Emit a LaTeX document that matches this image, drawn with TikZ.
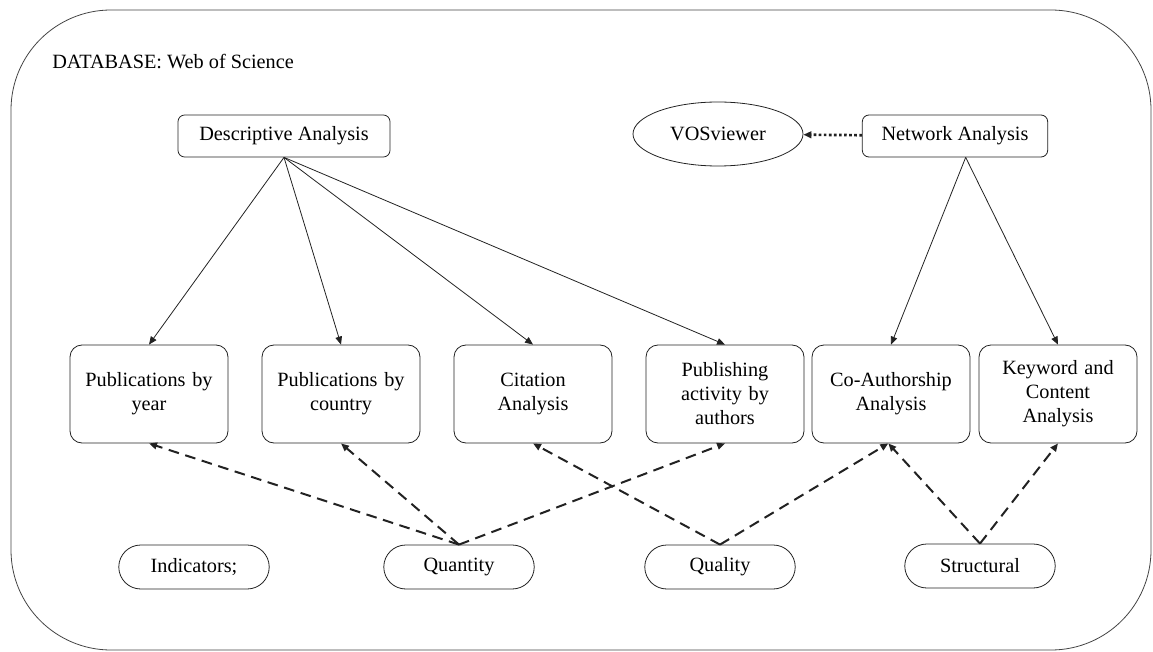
\documentclass[tikz,border=0pt]{standalone}
\usepackage{fontspec}
\setmainfont{Liberation Serif}
\usepackage{xcolor}
\usetikzlibrary{arrows.meta,positioning,shapes.geometric,shapes.misc}
\definecolor{ink}{HTML}{222222}
\definecolor{framegray}{HTML}{444444}
\tikzset{
  headbox/.style={rectangle, rounded corners=5pt, draw=ink, line width=0.6pt, align=center, minimum height=31.5pt, font=\fontsize{15.2}{18}\selectfont},
  topic/.style={rectangle, rounded corners=9pt, draw=ink, line width=0.6pt, align=center, minimum width=118.5pt, minimum height=73.5pt, text width=110pt, font=\fontsize{15.2}{18}\selectfont},
  pill/.style={rounded rectangle, draw=ink, line width=0.6pt, align=center, minimum width=119.5pt, minimum height=33pt, font=\fontsize{15.2}{18}\selectfont},
  tool/.style={ellipse, draw=ink, line width=0.6pt, minimum width=127.5pt, minimum height=48pt, font=\fontsize{15.2}{18}\selectfont},
  arrow/.style={-{Triangle[length=6pt,width=5pt]}, line width=0.6pt, draw=ink},
  dashedarrow/.style={-{Triangle[length=6pt,width=5pt]}, line width=1.5pt, draw=ink, dash pattern=on 8pt off 5pt},
  dottedarrow/.style={-{Triangle[length=6pt,width=5pt]}, line width=2pt, draw=ink, dash pattern=on 2pt off 1.8pt}
}
\begin{document}
\begin{tikzpicture}[x=0.75pt,y=-0.75pt]
  \useasboundingbox (0,0) rectangle (1153,652);
  \draw[framegray, line width=0.6pt, rounded corners=75pt] (11,10) rectangle (1151,650);
  \node[anchor=west, inner sep=0pt, font=\fontsize{15.2}{18}\selectfont] (db) at (52,62) {DATABASE: Web of Science};

  \node[headbox, minimum width=159pt] (desc) at (284,136) {Descriptive Analysis};
  \node[headbox, minimum width=139pt] (net) at (955,136) {Network Analysis};
  \node[tool] (vos) at (718,134) {VOSviewer};

  \node[topic] (year) at (149,394) {Publications by\\year};
  \node[topic] (country) at (341,394) {Publications by\\country};
  \node[topic] (cite) at (533,394) {Citation\\Analysis};
  \node[topic] (pubauth) at (725,394) {Publishing\\activity by\\authors};
  \node[topic] (coauth) at (891,394) {Co-Authorship\\Analysis};
  \node[topic] (keyword) at (1058,394) {Keyword and\\Content\\Analysis};

  \node[pill] (ind) at (194,567) {Indicators;};
  \node[pill] (quant) at (459,567) {Quantity};
  \node[pill] (qual) at (720,567) {Quality};
  \node[pill] (struct) at (980,566) {Structural};

  \draw[dottedarrow] (net) -- (vos);

  \draw[arrow] (desc.south) -- (year.north);
  \draw[arrow] (desc.south) -- (country.north);
  \draw[arrow] (desc.south) -- (cite.north);
  \draw[arrow] (desc.south) -- (pubauth.north);
  \draw[arrow] ([xshift=8pt]net.south) -- (coauth.north);
  \draw[arrow] ([xshift=8pt]net.south) -- (keyword.north);

  \draw[dashedarrow] (quant.north) -- (year.south);
  \draw[dashedarrow] (quant.north) -- (country.south);
  \draw[dashedarrow] (quant.north) -- (pubauth.south);
  \draw[dashedarrow] (qual.north) -- (cite.south);
  \draw[dashedarrow] (qual.north) -- ([xshift=-2pt]coauth.south);
  \draw[dashedarrow] (struct.north) -- ([xshift=-2pt]coauth.south);
  \draw[dashedarrow] (struct.north) -- (keyword.south);
\end{tikzpicture}
\end{document}
